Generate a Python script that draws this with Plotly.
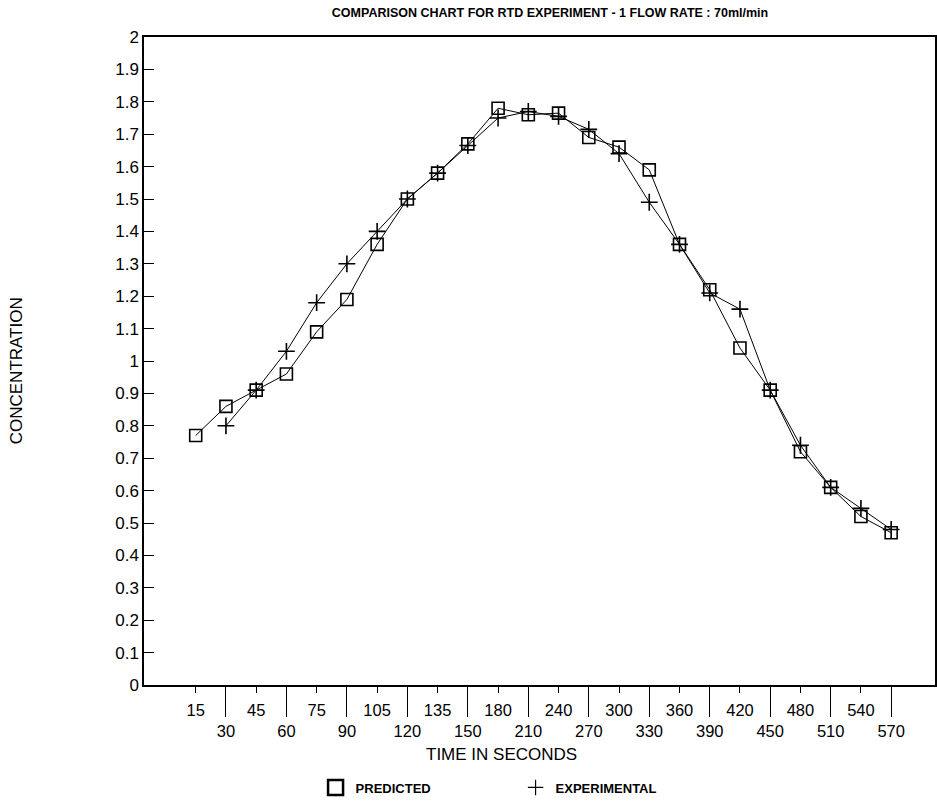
import plotly.graph_objects as go

# ---- data ----
times = ["15", "30", "45", "60", "75", "90", "105", "120", "135", "150", "180", "210",
         "240", "270", "300", "330", "360", "390", "420", "450", "480", "510", "540", "570"]
predicted = [0.77, 0.86, 0.91, 0.96, 1.09, 1.19, 1.36, 1.50, 1.58, 1.67, 1.78, 1.76,
             1.765, 1.69, 1.66, 1.59, 1.36, 1.22, 1.04, 0.91, 0.72, 0.61, 0.52, 0.47]
experimental = [None, 0.80, 0.91, 1.03, 1.18, 1.30, 1.40, 1.50, 1.58, 1.665, 1.75, 1.77,
                1.755, 1.715, 1.64, 1.49, 1.36, 1.21, 1.16, 0.91, 0.74, 0.61, 0.545, 0.48]
y_ticks = [0, 0.1, 0.2, 0.3, 0.4, 0.5, 0.6, 0.7, 0.8, 0.9, 1, 1.1, 1.2, 1.3, 1.4, 1.5,
           1.6, 1.7, 1.8, 1.9, 2]
y_ticktext = ["0", "0.1", "0.2", "0.3", "0.4", "0.5", "0.6", "0.7", "0.8", "0.9", "1",
              "1.1", "1.2", "1.3", "1.4", "1.5", "1.6", "1.7", "1.8", "1.9", "2"]

FONT = "Liberation Sans"
x_range = [-1.71, 24.45]

# alternating two-row tick labels
x_ticktext = [t if i % 2 == 0 else "<br>" + t for i, t in enumerate(times)]
long_tick_vals = [i for i in range(len(times)) if i % 2 == 1]

fig = go.Figure()

fig.add_trace(go.Scatter(
    x=times, y=predicted, mode="lines+markers", name="PREDICTED", showlegend=False,
    line=dict(color="black", width=1),
    marker=dict(symbol="square-open", size=12, color="black", line=dict(width=1.6)),
))
fig.add_trace(go.Scatter(
    x=times, y=experimental, mode="lines+markers", name="EXPERIMENTAL", showlegend=False,
    line=dict(color="black", width=1),
    marker=dict(symbol="cross-thin-open", size=12, color="black", line=dict(width=1.6)),
))
# legend entries (symbols only)
fig.add_trace(go.Scatter(
    x=[None], y=[None], mode="markers", name="PREDICTED",
    marker=dict(symbol="square-open", size=15, color="black", line=dict(width=2.5)),
))
fig.add_trace(go.Scatter(
    x=[None], y=[None], mode="markers", name="EXPERIMENTAL",
    marker=dict(symbol="cross-thin-open", size=11, color="black", line=dict(width=1.2)),
))
# invisible trace so the overlay axis (long ticks) is drawn
fig.add_trace(go.Scatter(
    x=[None], y=[None], xaxis="x2", yaxis="y", mode="markers", showlegend=False,
    hoverinfo="skip",
))

fig.update_layout(
    width=937, height=803,
    margin=dict(l=144, r=0, t=37, b=116),
    paper_bgcolor="white", plot_bgcolor="white",
    font=dict(family=FONT, color="black"),
    title=dict(text="COMPARISON CHART FOR RTD EXPERIMENT - 1 FLOW RATE : 70ml/min",
               x=550 / 937, xanchor="center", y=1 - 13 / 803, yanchor="middle",
               font=dict(family=FONT, size=12.5, color="black", weight="bold")),
    xaxis=dict(
        type="category", categoryorder="array", categoryarray=times,
        range=x_range, tickmode="array", tickvals=times, ticktext=x_ticktext,
        tickangle=0,
        ticks="outside", ticklen=6, tickwidth=1, tickcolor="black",
        ticklabelstandoff=3,
        showline=True, linecolor="black", linewidth=1.5, mirror=True,
        showgrid=False, zeroline=False,
        tickfont=dict(family=FONT, size=16.5, color="black"),
    ),
    xaxis2=dict(
        overlaying="x", anchor="y", side="bottom", type="linear",
        range=x_range, tickmode="array", tickvals=long_tick_vals,
        showticklabels=False, ticks="outside", ticklen=31, tickwidth=1.3,
        tickcolor="black", showgrid=False, zeroline=False, showline=False,
    ),
    yaxis=dict(
        range=[0, 2], tickmode="array", tickvals=y_ticks, ticktext=y_ticktext,
        ticks="inside", ticklen=10, tickwidth=1, tickcolor="black",
        showline=True, linecolor="black", linewidth=1.5, mirror=True,
        showgrid=False, zeroline=False,
        tickfont=dict(family=FONT, size=17, color="black"),
    ),
    legend=dict(
        orientation="h", x=(316 - 144) / 793, xanchor="left", y=-0.135, yanchor="top",
        entrywidth=155, entrywidthmode="pixels",
        font=dict(family=FONT, size=13, color="black", weight="bold"),
        bgcolor="rgba(0,0,0,0)",
    ),
    annotations=[
        dict(text="TIME IN SECONDS", xref="paper", yref="paper",
             x=(502 - 144) / 793, y=-(757 - 687) / 650, xanchor="center", yanchor="middle",
             showarrow=False, font=dict(family=FONT, size=17, color="black")),
        dict(text="CONCENTRATION", xref="paper", yref="paper",
             x=-(144 - 17) / 793, y=(687 - 372) / 650, xanchor="center", yanchor="middle",
             textangle=-90, showarrow=False,
             font=dict(family=FONT, size=17, color="black")),
    ],
)

fig.write_html("out.html")
